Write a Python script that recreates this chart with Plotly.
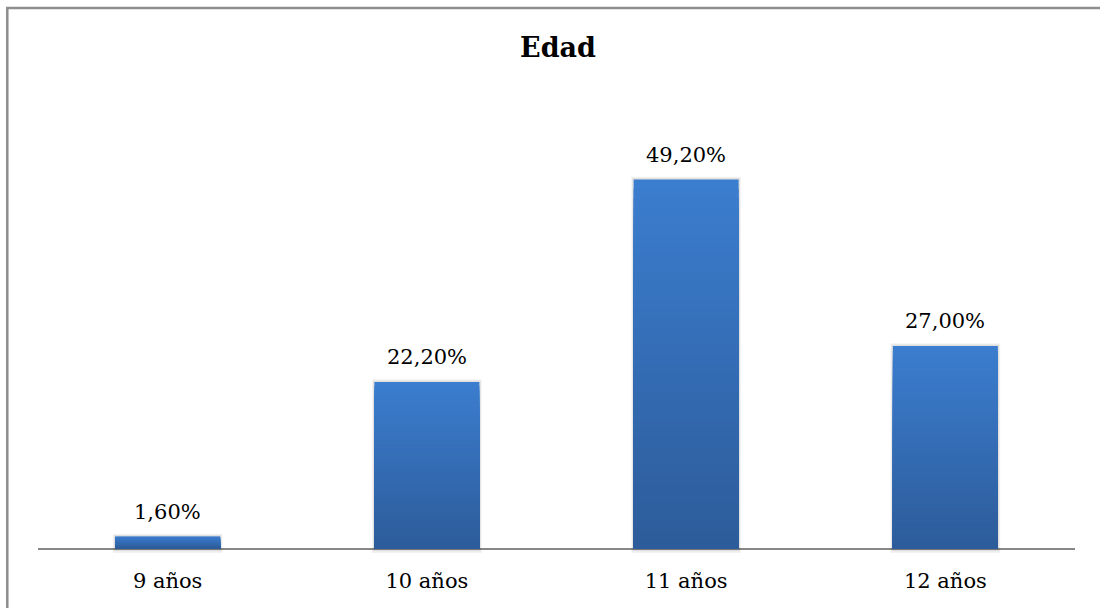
import plotly.graph_objects as go

categories = ["9 años", "10 años", "11 años", "12 años"]
values = [1.6, 22.2, 49.2, 27.0]
labels = ["1,60%", "22,20%", "49,20%", "27,00%"]

SERIF = "DejaVu Serif"
N = 40
top_rgb = (59, 125, 206)
bot_rgb = (45, 92, 154)

fig = go.Figure()

# soft shadow
for pad, alpha in [(0.6, 0.05), (0.35, 0.07)]:
    fig.add_trace(go.Bar(
        x=categories, y=[v + pad * 1.6 for v in values], base=[-pad for _ in values],
        marker=dict(color=f"rgba(0,0,0,{alpha})", line=dict(width=0)),
        width=0.405 + pad * 0.03, hoverinfo="skip", showlegend=False))

# gradient: full bar in top colour, then progressively shorter, darker bars on top
for k in range(N):
    frac = (N - k) / N
    t = (N - k - 1) / (N - 1)
    c = tuple(round(bot_rgb[i] + (top_rgb[i] - bot_rgb[i]) * t) for i in range(3))
    fig.add_trace(go.Bar(
        x=categories, y=[v * frac for v in values],
        marker=dict(color=f"rgb{c}", line=dict(width=0)),
        width=0.405, hoverinfo="skip", showlegend=False))

for c, v, lab in zip(categories, values, labels):
    fig.add_annotation(x=c, y=v, text=lab, showarrow=False, yanchor="bottom",
                       yshift=11, font=dict(family=SERIF, size=21, color="black"))

fig.update_layout(
    width=1100, height=608,
    margin=dict(l=38, r=25, t=106, b=52, autoexpand=False),
    paper_bgcolor="white", plot_bgcolor="white",
    barmode="overlay",
    showlegend=False,
    font=dict(family=SERIF),
    title=dict(text="<b>Edad</b>", x=558 / 1100, xref="container", xanchor="center",
               y=1 - 48 / 608, yref="container", yanchor="middle",
               font=dict(family=SERIF, size=27, color="black")),
    xaxis=dict(showline=False, showgrid=False, ticks="", zeroline=False, automargin=False,
               tickfont=dict(family=SERIF, size=21, color="black"), ticklabelstandoff=10),
    yaxis=dict(range=[-1, 59], showgrid=False, showticklabels=False, ticks="", automargin=False,
               zeroline=True, zerolinecolor="#878787", zerolinewidth=2, showline=False),
    shapes=[dict(type="rect", xref="paper", yref="paper",
                 x0=(7.3 - 38) / 1037, x1=(1250 - 38) / 1037,
                 y0=(556 - 700) / 450, y1=(556 - 8) / 450,
                 line=dict(color="#8E8E8E", width=2.5), fillcolor="rgba(0,0,0,0)")],
)

fig.write_html("out.html", config={"displayModeBar": False})
